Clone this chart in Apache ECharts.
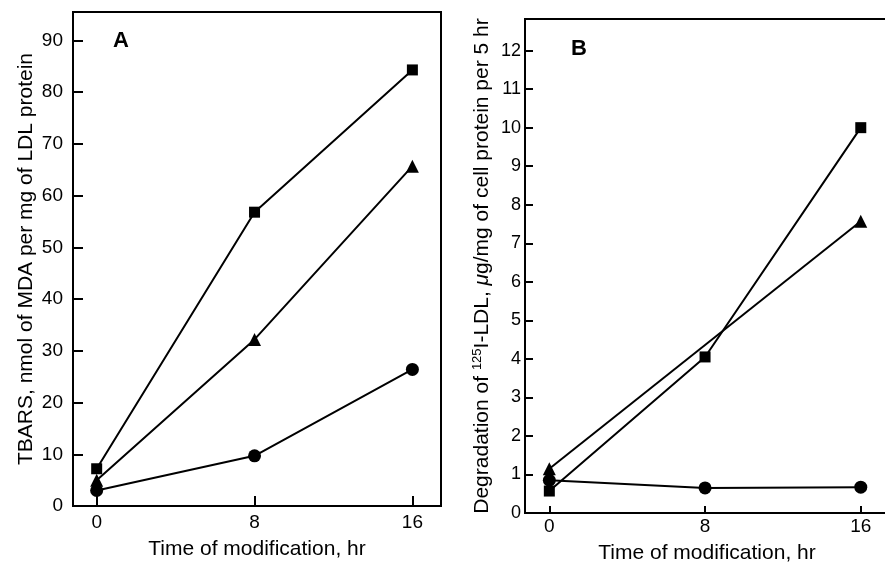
<!DOCTYPE html>
<html>
<head>
<meta charset="utf-8">
<script src="https://cdn.jsdelivr.net/npm/echarts@6/dist/echarts.min.js"></script>
<style>
  html, body { margin: 0; padding: 0; background: #fff; }
  #chart { width: 885px; height: 562px; }
</style>
</head>
<body>
<div id="chart"></div>
<script>
// time of modification (hr)
const hours = [0, 8, 16]
const hourTicks = [0, 8, 16]

// panel A: TBARS, nmol MDA / mg LDL protein
const tbarsSquare = [7.2, 56.8, 84.3]
const tbarsTriangle = [5.0, 32.2, 65.7]
const tbarsCircle = [3.0, 9.7, 26.4]
const tbarsTicks = [0, 10, 20, 30, 40, 50, 60, 70, 80, 90]

// panel B: degradation of 125I-LDL, ug/mg cell protein per 5 hr
const degSquare = [0.57, 4.05, 10.0]
const degTriangleHours = [0, 16]
const degTriangle = [1.15, 7.57]
const degCircle = [0.85, 0.65, 0.67]
const degTicks = [0, 1, 2, 3, 4, 5, 6, 7, 8, 9, 10, 11, 12]

const font = 'Liberation Sans, Arial, Helvetica, sans-serif'
const black = '#000'

const pairs = (xs, ys) => xs.map((x, i) => [x, ys[i]])

const lineSeries = (idx, symbol, size, data) => ({
  type: 'line',
  xAxisIndex: idx,
  yAxisIndex: idx,
  data: data,
  symbol: symbol,
  symbolSize: size,
  showSymbol: true,
  lineStyle: { color: black, width: 2 },
  itemStyle: { color: black },
  emphasis: { disabled: true },
  z: symbol === 'rect' ? 3 : 2,
})

const chart = echarts.init(document.getElementById('chart'))

const option = {
  backgroundColor: '#fff',
  animation: false,
  textStyle: { fontFamily: font, color: black },
  title: [
    {
      text: 'A',
      left: 108,
      top: 25,
      textStyle: { fontFamily: font, fontSize: 22, fontWeight: 900, color: black },
    },
    {
      text: 'B',
      left: 566,
      top: 33,
      textStyle: { fontFamily: font, fontSize: 22, fontWeight: 900, color: black },
    },
  ],
  grid: [
    {
      left: 73,
      top: 12,
      width: 368,
      height: 494,
      outerBoundsMode: 'none',
      show: true,
      borderColor: black,
      borderWidth: 2,
    },
    {
      // right edge runs past the canvas, as in the cropped original
      left: 525,
      top: 19,
      width: 364,
      height: 494,
      outerBoundsMode: 'none',
      show: true,
      borderColor: black,
      borderWidth: 2,
    },
  ],
  xAxis: [
    {
      gridIndex: 0,
      type: 'value',
      min: -1.2,
      max: 17.45,
      splitLine: { show: false },
      axisLine: { onZero: false, lineStyle: { color: black, width: 2 } },
      axisTick: { inside: true, length: 10, customValues: hourTicks, lineStyle: { color: black, width: 2 } },
      axisLabel: { customValues: hourTicks, margin: 7, fontSize: 19, color: black, fontFamily: font },
      name: 'Time of modification, hr',
      nameLocation: 'middle',
      nameGap: 33,
      nameTextStyle: { fontSize: 21, color: black, fontFamily: font },
    },
    {
      gridIndex: 1,
      type: 'value',
      min: -1.25,
      max: 17.45,
      splitLine: { show: false },
      axisLine: { onZero: false, lineStyle: { color: black, width: 2 } },
      axisTick: { inside: true, length: 7, customValues: hourTicks, lineStyle: { color: black, width: 2 } },
      axisLabel: { customValues: hourTicks, margin: 4, fontSize: 19, color: black, fontFamily: font },
      name: 'Time of modification, hr',
      nameLocation: 'middle',
      nameGap: 30,
      nameTextStyle: { fontSize: 21, color: black, fontFamily: font },
    },
  ],
  yAxis: [
    {
      gridIndex: 0,
      type: 'value',
      min: 0,
      max: 95.5,
      splitLine: { show: false },
      axisLine: { onZero: false, lineStyle: { color: black, width: 2 } },
      axisTick: { inside: true, length: 10, customValues: tbarsTicks, lineStyle: { color: black, width: 2 } },
      axisLabel: { customValues: tbarsTicks, margin: 10, fontSize: 19, color: black, fontFamily: font },
      name: 'TBARS, nmol of MDA per mg of LDL protein',
      nameLocation: 'middle',
      nameGap: 36,
      nameTextStyle: { fontSize: 21, color: black, fontFamily: font },
    },
    {
      gridIndex: 1,
      type: 'value',
      min: 0,
      max: 12.82,
      splitLine: { show: false },
      axisLine: { onZero: false, lineStyle: { color: black, width: 2 } },
      axisTick: { inside: true, length: 8, customValues: degTicks, lineStyle: { color: black, width: 2 } },
      axisLabel: { customValues: degTicks, margin: 4, fontSize: 18, color: black, fontFamily: font },
      name: 'Degradation of {sup|125}I-LDL, {it|μ}g/mg of cell protein per 5 hr',
      nameLocation: 'middle',
      nameGap: 31,
      nameTextStyle: {
        fontSize: 21,
        color: black,
        fontFamily: font,
        rich: {
          sup: { fontSize: 13, fontFamily: font, color: black, padding: [0, 0, 10, 0] },
          it: { fontSize: 21, fontFamily: font, color: black, fontStyle: 'italic' },
        },
      },
    },
  ],
  series: [
    lineSeries(0, 'circle', 13, pairs(hours, tbarsCircle)),
    lineSeries(0, 'triangle', 13, pairs(hours, tbarsTriangle)),
    lineSeries(0, 'rect', 11, pairs(hours, tbarsSquare)),
    lineSeries(1, 'circle', 13, pairs(hours, degCircle)),
    lineSeries(1, 'triangle', 13, pairs(degTriangleHours, degTriangle)),
    lineSeries(1, 'rect', 11, pairs(hours, degSquare)),
  ],
}

chart.setOption(option)
</script>
</body>
</html>
